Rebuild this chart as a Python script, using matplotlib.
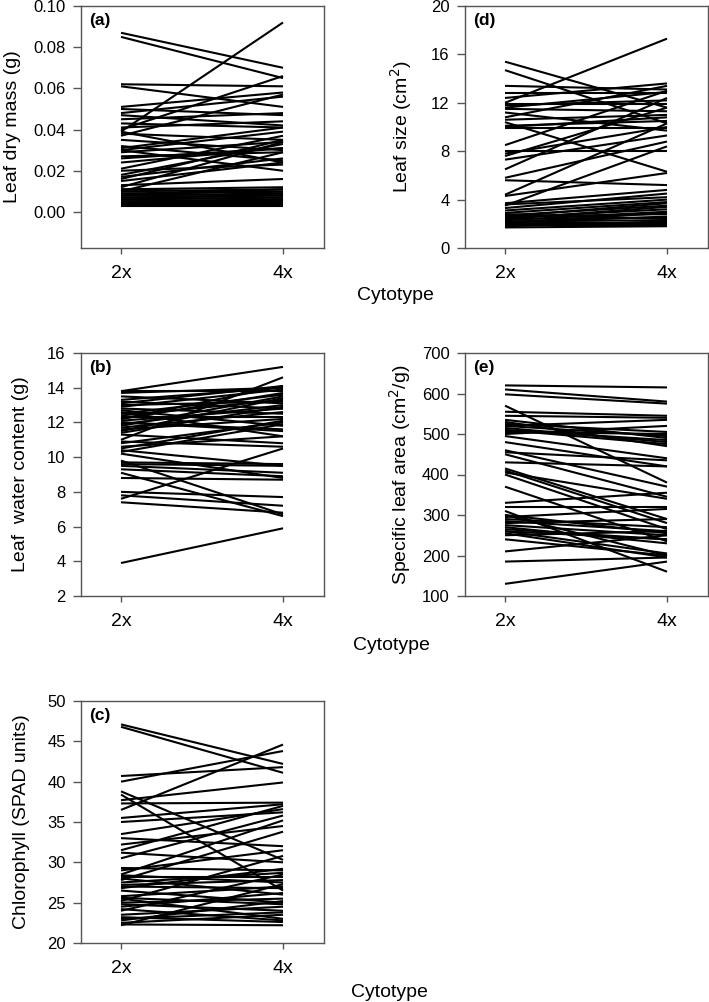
import matplotlib
matplotlib.use("Agg")
import matplotlib.pyplot as plt
from matplotlib.ticker import FormatStrFormatter

plt.rcParams['font.family'] = ['Liberation Sans', 'DejaVu Sans']

cytotypes = ["2x", "4x"]

# (a) Leaf dry mass (g): 2x value, 4x value per line
dry_2x = [0.087, 0.085, 0.039, 0.062, 0.061, 0.051, 0.050, 0.048, 0.047, 0.045,
          0.043, 0.040, 0.039, 0.038, 0.037, 0.032, 0.031, 0.030, 0.030, 0.029,
          0.027, 0.026, 0.021, 0.020, 0.018, 0.017, 0.016, 0.015, 0.013, 0.012,
          0.011, 0.010, 0.010, 0.009, 0.009, 0.008, 0.008, 0.007, 0.007, 0.006,
          0.006, 0.005, 0.005, 0.005, 0.004, 0.004, 0.004, 0.003, 0.003, 0.003,
          0.041, 0.035, 0.024, 0.011, 0.008, 0.006]
dry_4x = [0.070, 0.065, 0.092, 0.061, 0.051, 0.058, 0.047, 0.056, 0.042, 0.048,
          0.041, 0.066, 0.024, 0.035, 0.057, 0.025, 0.041, 0.020, 0.039, 0.034,
          0.029, 0.031, 0.037, 0.023, 0.033, 0.026, 0.035, 0.024, 0.016, 0.034,
          0.012, 0.029, 0.011, 0.010, 0.008, 0.009, 0.007, 0.006, 0.008, 0.005,
          0.007, 0.004, 0.006, 0.005, 0.003, 0.006, 0.004, 0.003, 0.005, 0.004,
          0.044, 0.030, 0.031, 0.009, 0.011, 0.009]

# (d) Leaf size (cm2)
size_2x = [15.4, 14.7, 12.0, 13.4, 12.8, 12.4, 11.9, 11.8, 11.5, 11.2,
           10.8, 10.6, 10.4, 10.1, 9.9, 8.5, 8.0, 7.8, 7.6, 7.3,
           6.5, 5.8, 5.6, 4.4, 4.3, 3.7, 3.5, 3.3, 3.1, 2.9,
           2.7, 2.6, 2.5, 2.4, 2.3, 2.2, 2.1, 2.0, 1.9, 1.8,
           1.7, 2.4, 2.2, 3.6, 2.8, 11.6, 10.0, 2.6, 2.1]
size_4x = [11.6, 10.3, 17.3, 13.1, 12.8, 13.6, 11.9, 12.2, 11.3, 9.7,
           13.4, 11.0, 6.3, 10.5, 9.9, 13.0, 8.0, 10.0, 11.6, 9.3,
           12.4, 8.8, 5.2, 10.3, 6.2, 4.8, 8.4, 4.5, 4.0, 3.8,
           3.5, 2.8, 3.2, 2.5, 3.0, 2.3, 2.6, 2.1, 1.9, 2.2,
           1.8, 3.4, 2.0, 4.2, 2.4, 12.9, 10.8, 3.7, 2.9]

# (b) Leaf water content (g)
water_2x = [3.9, 13.8, 13.7, 7.4, 7.6, 7.8, 8.0, 8.8, 9.1, 9.3,
            9.6, 9.8, 10.2, 10.4, 10.6, 10.8, 11.0, 11.3, 11.5, 11.7,
            11.9, 12.0, 12.2, 12.3, 12.5, 12.7, 13.0, 13.2, 13.3, 13.8,
            12.1, 11.8, 12.6, 10.3, 9.5, 13.1, 12.4, 11.6, 12.9, 10.9,
            12.8, 12.2, 11.4, 13.5, 12.0, 10.5, 9.7]
water_4x = [5.9, 15.2, 14.0, 6.8, 10.5, 7.2, 7.7, 8.7, 6.6, 8.9,
            9.5, 6.7, 8.8, 9.5, 11.2, 12.0, 14.6, 10.8, 13.4, 12.6,
            13.0, 11.6, 14.1, 12.3, 13.6, 11.8, 13.2, 12.8, 14.0, 13.8,
            12.8, 13.5, 11.2, 11.9, 9.1, 14.1, 13.3, 12.2, 13.9, 10.6,
            12.5, 13.7, 12.9, 13.1, 11.5, 12.1, 9.6]

# (e) Specific leaf area (cm2/g)
sla_2x = [620, 610, 598, 570, 555, 545, 530, 525, 520, 515,
          510, 505, 495, 480, 460, 455, 450, 430, 415, 410,
          405, 400, 370, 330, 320, 310, 300, 295, 290, 285,
          275, 270, 265, 260, 255, 250, 240, 210, 185, 130,
          520, 500, 535, 280, 260, 510, 300]
sla_4x = [615, 580, 575, 380, 545, 540, 470, 505, 495, 480,
          485, 500, 440, 420, 370, 435, 345, 420, 290, 280,
          340, 265, 235, 355, 320, 160, 200, 315, 270, 260,
          250, 230, 240, 205, 195, 260, 200, 250, 195, 185,
          535, 520, 490, 290, 240, 475, 255]

# (c) Chlorophyll (SPAD units)
chl_2x = [47.1, 46.8, 40.7, 40.0, 38.8, 38.4, 37.7, 37.3, 36.5, 35.5,
          35.0, 33.5, 33.0, 32.2, 31.5, 31.2, 30.5, 29.3, 29.0, 28.5,
          28.2, 28.0, 27.8, 27.5, 27.2, 26.8, 26.5, 25.8, 25.5, 25.2,
          25.0, 24.8, 24.5, 24.0, 23.5, 23.2, 22.8, 22.5, 22.3, 22.2,
          27.0, 24.2, 28.4, 25.6, 23.0]
chl_4x = [42.2, 41.1, 41.8, 43.8, 30.3, 26.5, 39.9, 37.4, 44.6, 37.2,
          36.2, 36.6, 32.0, 34.5, 37.0, 30.0, 35.8, 29.0, 31.5, 35.2,
          28.2, 26.0, 33.8, 28.7, 27.8, 29.2, 25.0, 27.0, 23.0, 30.8,
          25.5, 24.0, 26.2, 28.5, 24.5, 22.6, 25.2, 23.5, 22.2, 27.3,
          26.8, 22.8, 27.5, 24.8, 23.8]

W, H = 709, 1002
fig = plt.figure(figsize=(W / 100, H / 100), dpi=100)

spine_col = "#555555"

def make_ax(left_px, top_px, right_px, bottom_px):
    return fig.add_axes([left_px / W, 1 - bottom_px / H,
                         (right_px - left_px) / W, (bottom_px - top_px) / H])

panels = [
    # left, top, right, bottom, v2x, v4x, ylim, yticks, fmt, ylabel, label, ylabel_x_px
    (81, 6, 324, 248, dry_2x, dry_4x, (-0.0175, 0.10),
     [0.00, 0.02, 0.04, 0.06, 0.08, 0.10], "%.2f", "Leaf dry mass (g)", "(a)", 13),
    (465, 6, 708, 248, size_2x, size_4x, (0, 20),
     [0, 4, 8, 12, 16, 20], "%d", "Leaf size (cm$^2$)", "(d)", 401),
    (81, 353, 324, 596, water_2x, water_4x, (2, 16),
     [2, 4, 6, 8, 10, 12, 14, 16], "%d", "Leaf  water content (g)", "(b)", 21),
    (465, 353, 708, 596, sla_2x, sla_4x, (100, 700),
     [100, 200, 300, 400, 500, 600, 700], "%d", "Specific leaf area (cm$^2$/g)", "(e)", 400),
    (81, 701, 324, 943, chl_2x, chl_4x, (20, 50),
     [20, 25, 30, 35, 40, 45, 50], "%d", "Chlorophyll (SPAD units)", "(c)", 22),
]

for (l, t, r, b, v2, v4, ylim, yt, fmt, ylab, plab, ylx) in panels:
    ax = make_ax(l, t, r, b)
    for a, c in zip(v2, v4):
        ax.plot([0, 1], [a, c], color="black", lw=1.5, solid_capstyle="butt")
    ax.set_xlim(-0.247, 1.253)
    ax.set_ylim(*ylim)
    ax.set_yticks(yt)
    ax.yaxis.set_major_formatter(FormatStrFormatter(fmt))
    ax.set_xticks([0, 1])
    ax.set_xticklabels(cytotypes)
    for s in ax.spines.values():
        s.set_color(spine_col)
        s.set_linewidth(1.0)
    ax.tick_params(axis="y", direction="out", length=6, width=1.0, color=spine_col,
                   labelsize=12, pad=5)
    ax.tick_params(axis="x", direction="out", length=4, width=1.0, color=spine_col,
                   labelsize=14, pad=8)
    fig.text(ylx / W, 1 - ((t + b) / 2) / H, ylab, fontsize=14, rotation=90,
             ha="center", va="center")
    ax.text(0.033, 0.942, plab, transform=ax.transAxes, fontsize=12.5,
            fontweight="bold", ha="left", va="center")

fig.text(395 / W, 1 - 300 / H, "Cytotype", fontsize=14, ha="center", va="baseline")
fig.text(391 / W, 1 - 650 / H, "Cytotype", fontsize=14, ha="center", va="baseline")
fig.text(389 / W, 1 - 997 / H, "Cytotype", fontsize=14, ha="center", va="baseline")

fig.savefig("out.png", dpi=100)
